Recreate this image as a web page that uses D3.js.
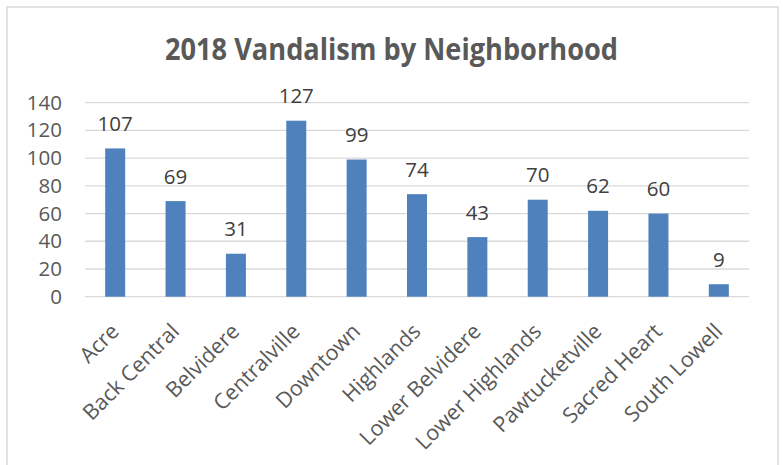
<!DOCTYPE html>
<html>
<head>
<meta charset="utf-8">
<script src="https://cdn.jsdelivr.net/npm/d3@7"></script>
<style>
  html, body { margin: 0; padding: 0; background: #fff; }
  svg { display: block; }
  text { font-family: "Open Sans", "Noto Sans", sans-serif; }
</style>
</head>
<body>
<svg id="chart" width="783" height="465"></svg>
<script>
const categories = ["Acre", "Back Central", "Belvidere", "Centralville", "Downtown", "Highlands",
  "Lower Belvidere", "Lower Highlands", "Pawtucketville", "Sacred Heart", "South Lowell"];
const values = [107, 69, 31, 127, 99, 74, 43, 70, 62, 60, 9];
const yTicks = [0, 20, 40, 60, 80, 100, 120, 140];
const title = "2018 Vandalism by Neighborhood";

const svg = d3.select("#chart");

// chart frame
svg.append("rect")
  .attr("x", 7).attr("y", 7).attr("width", 771).attr("height", 470)
  .attr("fill", "#fff").attr("stroke", "#d9d9d9").attr("stroke-width", 1.5);

const x = d3.scaleBand().domain(categories).range([85, 749]).padding(0);
const y = d3.scaleLinear().domain([0, 140]).range([296.7, 102.7]);
const barW = 20;

// gridlines
svg.append("g").selectAll("line").data(yTicks).join("line")
  .attr("x1", 85).attr("x2", 749)
  .attr("y1", d => y(d)).attr("y2", d => y(d))
  .attr("stroke", "#d9d9d9").attr("stroke-width", 1.3);

// y axis labels
const yAxis = d3.axisLeft(y).tickValues(yTicks).tickSize(0).tickPadding(0);
const yg = svg.append("g").attr("transform", "translate(62,0)").call(yAxis);
yg.select(".domain").remove();
yg.selectAll("text")
  .attr("fill", "#595959")
  .style("font-size", "20.5px")
  .style("font-family", "'Open Sans', sans-serif");

// bars
svg.append("g").selectAll("rect").data(values).join("rect")
  .attr("x", (d, i) => x(categories[i]) + x.bandwidth() / 2 - barW / 2)
  .attr("width", barW)
  .attr("y", d => y(d))
  .attr("height", d => y(0) - y(d))
  .attr("fill", "#4f81bd");

// data labels
svg.append("g").selectAll("text").data(values).join("text")
  .attr("x", (d, i) => x(categories[i]) + x.bandwidth() / 2)
  .attr("y", d => y(d) - 17.5)
  .attr("text-anchor", "middle")
  .attr("fill", "#404040")
  .style("font-size", "20.5px")
  .text(d => d);

// category labels
const xAxis = d3.axisBottom(x).tickSize(0).tickPadding(0);
const xg = svg.append("g").attr("transform", "translate(0,296.7)").call(xAxis);
xg.select(".domain").remove();
xg.selectAll(".tick text")
  .attr("y", 0).attr("dy", 0)
  .attr("text-anchor", "end")
  .attr("transform", "translate(5,36) rotate(-45)")
  .attr("fill", "#595959")
  .style("font-size", "21.5px")
  .style("font-family", "'Open Sans', sans-serif");

// title
svg.append("text")
  .attr("x", 391.5).attr("y", 60)
  .attr("text-anchor", "middle")
  .attr("fill", "#595959")
  .attr("font-weight", "bold")
  .attr("textLength", 453)
  .attr("lengthAdjust", "spacingAndGlyphs")
  .style("font-size", "30px")
  .text(title);
</script>
</body>
</html>
